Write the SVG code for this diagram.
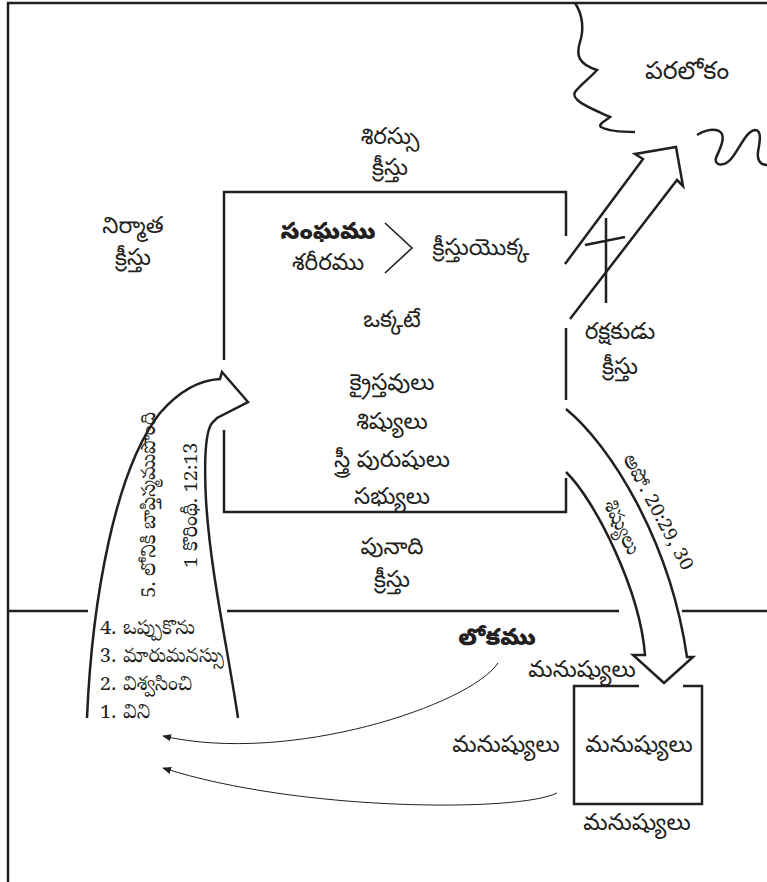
<svg xmlns="http://www.w3.org/2000/svg" width="767" height="882" viewBox="0 0 767 882">
<defs>
<style>
.ln{fill:none;stroke:#231f20;stroke-width:2.5;stroke-linejoin:miter}
.thin{fill:none;stroke:#231f20;stroke-width:1}
.t{font-family:"Noto Sans Telugu","Noto Sans",sans-serif;font-size:23px;fill:#231f20;text-anchor:middle}
.b{font-weight:900}
.s{font-family:"Noto Serif Telugu","Noto Sans Telugu","Liberation Serif",serif;font-size:20px;fill:#231f20}
</style>
<marker id="ah" viewBox="0 0 10 10" refX="9" refY="5" markerWidth="9" markerHeight="9" markerUnits="userSpaceOnUse" orient="auto">
<path d="M0,1 L10,5 L0,9 Z" fill="#231f20"/>
</marker>
</defs>
<rect width="767" height="882" fill="#fff"/>
<g id="frame">
<path class="ln" d="M767,3 L8,3 L8,882"/>
<path class="ln" d="M8,611 L88,611 M227,611 L619,611 M682,611 L767,611"/>
</g>
<g id="heaven">
<path class="ln" d="M575,3 C583,15 584,30 580,42 C576,55 578,64 597,70 C590,78 580,85 575,92 C570,100 590,108 610,117 C605,121 598,124 601,127 C610,132 625,132 635,132"/>
<path class="ln" d="M697,135 C703,131 712,128 719,131 C728,136 718,152 716,158 C714,166 724,167 731,159 C739,150 746,131 755,130 C763,130 759,145 758,152 C757,160 760,165 767,165"/>
<text class="t" style="font-size:25px" x="687" y="79">పరలోకం</text>
</g>
<g id="church">
<path class="ln" d="M224,360 L224,192 L566,192 L566,236 M566,328 L566,400 M566,478 L566,512 L224,512 L224,430"/>
<text class="t" x="390" y="144">శిరస్సు</text>
<text class="t" x="390" y="175">క్రీస్తు</text>
<text class="t" x="133" y="233">నిర్మాత</text>
<text class="t" x="133" y="265">క్రీస్తు</text>
<text class="t b" x="328" y="239">సంఘము</text>
<text class="t" x="328" y="270">శరీరము</text>
<path class="ln" style="stroke-width:1.6" d="M385,223 L412,248 L385,273"/>
<text class="t" x="481" y="255">క్రీస్తుయొక్క</text>
<text class="t" x="392" y="327">ఒక్కటే</text>
<text class="t" x="392" y="390">క్రైస్తవులు</text>
<text class="t" x="392" y="429">శిష్యులు</text>
<text class="t" x="392" y="467">స్త్రీ పురుషులు</text>
<text class="t" x="392" y="504">సభ్యులు</text>
<text class="t" x="392" y="554">పునాది</text>
<text class="t" x="392" y="587">క్రీస్తు</text>
</g>
<g id="saviour">
<text class="t" x="620" y="339">రక్షకుడు</text>
<text class="t" x="620" y="374">క్రీస్తు</text>
</g>
<g id="world">
<text class="t b" x="497" y="645">లోకము</text>
<text class="t" x="582" y="677">మనుష్యులు</text>
<text class="t" x="506" y="752">మనుష్యులు</text>
<text class="t" x="639" y="752">మనుష్యులు</text>
<text class="t" x="637" y="830">మనుష్యులు</text>
<path class="ln" d="M639,686 L574,686 L574,804 L702,804 L702,686 L683,686"/>
</g>
<g id="steps">
<text class="s" y="634"><tspan x="100">4.</tspan><tspan x="123">ఒప్పుకొను</tspan></text>
<text class="s" y="662"><tspan x="100">3.</tspan><tspan x="123">మారుమనస్సు</tspan></text>
<text class="s" y="690"><tspan x="100">2.</tspan><tspan x="123">విశ్వసించి</tspan></text>
<text class="s" y="718"><tspan x="100">1.</tspan><tspan x="123">విని</tspan></text>
<text class="s" text-anchor="middle" transform="translate(155,505) rotate(-90)">5.  లోనికి బాప్తిస్మముపొంది</text>
<text class="s" text-anchor="middle" transform="translate(197,505) rotate(-90)">1 కొరింథీ. 12:13</text>
</g>
<g id="connectors">
<path class="ln" d="M565,264 L643,159 L635,154 L676,147 L683,186 L677,180 L570,319"/>
<path class="ln" d="M606,218 L606,303 M585,245 L625,237"/>
<path class="ln" d="M566,409 C610,445 670,540 687,657 L693,657 L664,683 L633,655 L645,655 C640,590 595,500 566,472"/>
<path class="ln" d="M87,718 C92,600 115,470 160,413 C180,390 200,380 220,379 L222,372 L248,402 L217,418 L212,423 C205,432 204,460 206,500 C210,570 228,650 238,718"/>
<path class="thin" marker-end="url(#ah)" d="M498,663 C470,705 290,765 163,736"/>
<path class="thin" marker-end="url(#ah)" d="M557,793 C520,812 300,812 163,768"/>
</g>
<g id="rotated">
<text class="s" text-anchor="middle" transform="translate(653,515) rotate(62)">అపో. 20:29, 30</text>
<text class="s" text-anchor="middle" transform="translate(616,530) rotate(64)">శిష్యులు</text>
</g>
</svg>
